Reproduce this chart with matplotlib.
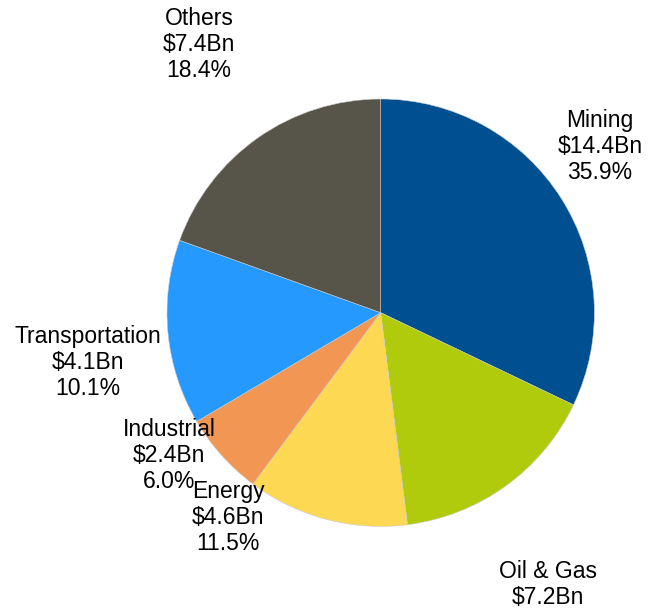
import matplotlib.pyplot as plt

plt.rcParams['font.family'] = ['Liberation Sans', 'DejaVu Sans']

# sector data (clockwise from 12 o'clock)
sectors = ['Mining', 'Oil & Gas', 'Energy', 'Industrial', 'Transportation', 'Others']
value_bn = ['$14.4Bn', '$7.2Bn', '$4.6Bn', '$2.4Bn', '$4.1Bn', '$7.4Bn']
# Oil & Gas percentage falls outside the frame in the original, so it's left blank
pct_labels = ['35.9%', '', '11.5%', '6.0%', '10.1%', '18.4%']
# slice sizes as drawn in the picture (share of the circle, %)
slice_shares = [32.1, 15.9, 12.2, 6.3, 14.0, 19.5]
colors = ['#005091', '#B0CA0C', '#FDD853', '#F19653', '#2699FF', '#57544A']

# label anchors in pixel space (x centre, y of top line, from top)
label_pos = [(600, 109), (548, 560), (228, 480), (169, 418), (88, 325), (199, 7)]

W, H = 648, 613
fig = plt.figure(figsize=(W / 100, H / 100), dpi=100)
ax = fig.add_axes([0, 0, 1, 1])

ax.pie(slice_shares, colors=colors, startangle=90, counterclock=False,
       center=(380.7, H - 312.7), radius=213.7,
       wedgeprops=dict(linewidth=0.4, edgecolor='#cccccc'))

for name, val, pct, (x, y) in zip(sectors, value_bn, pct_labels, label_pos):
    txt = "\n".join(s for s in (name, val, pct) if s)
    ax.text(x, H - y, txt, ha='center', va='top',
            fontsize=16.5, linespacing=1.17, color='black')

ax.set_xlim(0, W)
ax.set_ylim(0, H)
ax.set_aspect('equal')
ax.axis('off')

plt.savefig('out.png', dpi=100)
